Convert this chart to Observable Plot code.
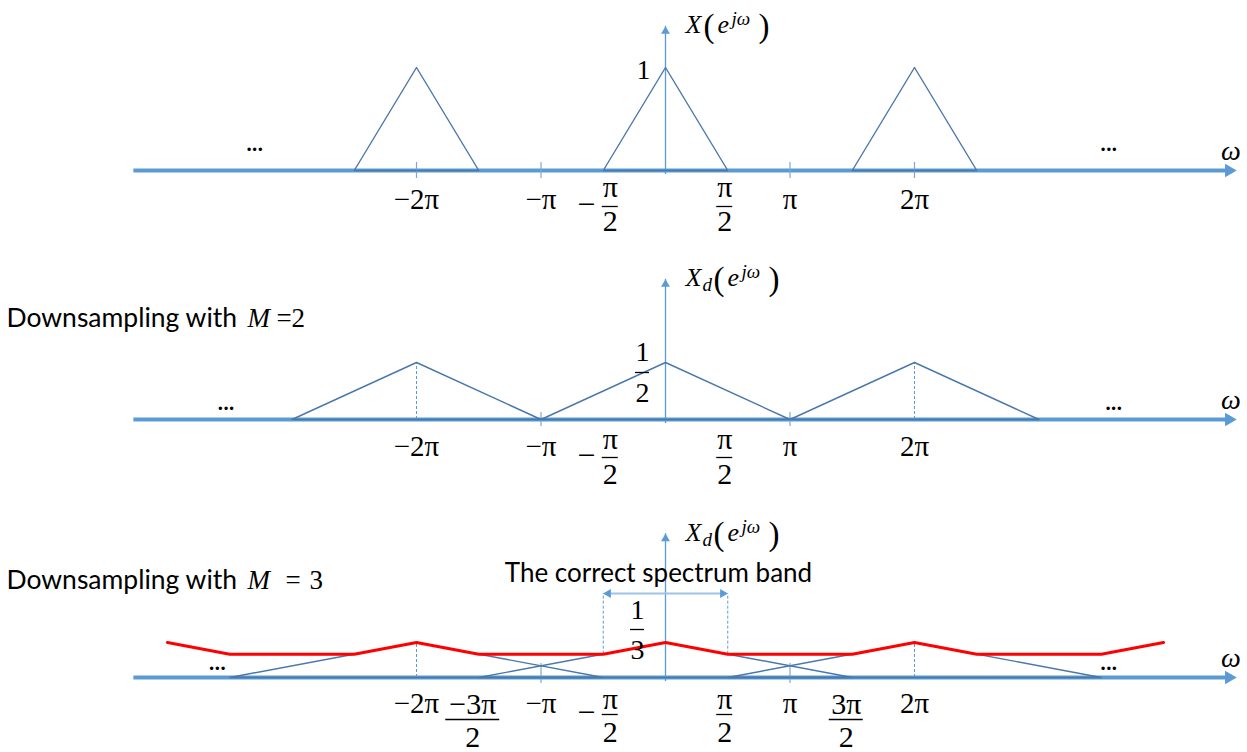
<!DOCTYPE html>
<html>
<head>
<meta charset="utf-8">
<script src="https://cdn.jsdelivr.net/npm/d3@7"></script>
<script src="https://cdn.jsdelivr.net/npm/@observablehq/plot@0.6"></script>
<style>
  html, body { margin: 0; padding: 0; background: #fff; }
  #chart { position: relative; width: 1247px; height: 752px; overflow: hidden; }
  #chart svg { position: absolute; left: 0; overflow: visible; }
</style>
</head>
<body>
<div id="chart"></div>
<script>
// All ω values are expressed in units of π.

// ω axis: start and arrow tip
const axisStart = -4.27;
const axisTip = 4.59;

// Original spectrum X(e^{jω})
const origPeaks = [-2, 0, 2];
const origHalfWidth = 0.5;
const origHeight = 1;
const origTicks = [-2, -1, 1, 2];
const origReach = 1.4;
const origEllipsis = [-3.3, 3.56];

// Downsampled by M = 2
const m2Peaks = [-2, 0, 2];
const m2HalfWidth = 1;
const m2Height = 1 / 2;
const m2Ticks = [-1, 1];
const m2Guides = [-2, 2];
const m2Reach = 1.23;
const m2Ellipsis = [-3.53, 3.6];

// Downsampled by M = 3: shifted copies and their (aliased) sum
const m3Peaks = [-2, 0, 2];
const m3HalfWidth = 1.5;
const m3Height = 1 / 3;
const m3Ticks = [-1, 1];
const m3Guides = [-2, 2];
const m3SumW = [-4, -3.5, -2.5, -2, -1.5, -0.5, 0, 0.5, 1.5, 2, 2.5, 3.5, 4];
const m3SumV = [1/3, 2/9, 2/9, 1/3, 2/9, 2/9, 1/3, 2/9, 2/9, 1/3, 2/9, 2/9, 1/3];
const m3Band = [-0.5, 0.5];
const m3BandLevel = 0.8;
const m3Reach = 1.37;
const m3Ellipsis = [-3.6, 3.56];

// Tick labels on the ω axis
const wholeLabels = [
  { w: -2, t: "−2π" }, { w: -1, t: "−π" }, { w: 1, t: "π" }, { w: 2, t: "2π" }
];
const halfLabels = [
  { w: -0.5, sign: "−", num: "π", den: "2" },
  { w: 0.5, sign: "", num: "π", den: "2" }
];
const m3HalfLabels = [
  { w: -1.5, sign: "", num: "−3π", den: "2" },
  { w: -0.5, sign: "−", num: "π", den: "2" },
  { w: 0.5, sign: "", num: "π", den: "2" },
  { w: 1.5, sign: "", num: "3π", den: "2" }
];

// ---------------------------------------------------------------
const W = 1247;
const ORIGIN = 665, PX_PER_PI = 124.5;
const xDomain = [-ORIGIN / PX_PER_PI, (W - ORIGIN) / PX_PER_PI];

const AXIS = "#5B9BD5";
const LINE = "#4A78AB";
const TICK = "#7FA7D4";
const RED = "#FF0000";
const MATH = "Liberation Serif";
const SANS = "Lato";

function triangles(peaks, hw, h) {
  return peaks.flatMap(c => [
    { w: c - hw, v: 0, k: c }, { w: c, v: h, k: c },
    { w: c + hw, v: 0, k: c }, { w: c - hw, v: 0, k: c }
  ]);
}

function axisMarks(reach, ticks, tickUp, tickDown, ellipsis, ellipsisDy) {
  return [
    Plot.ruleY([0], { x1: axisStart, x2: axisTip, stroke: AXIS, strokeWidth: 4, insetRight: 9 }),
    Plot.dot([axisTip], { x: d => d, y: 0, symbol: "triangle", rotate: 90, r: 5, fill: AXIS, dx: -8 }),
    Plot.ruleX([0], { y1: 0, y2: reach, stroke: AXIS, strokeWidth: 1.3, insetTop: 4 }),
    Plot.dot([reach], { x: 0, y: d => d, symbol: "triangle", r: 3.3, fill: AXIS, dy: 5 }),
    Plot.ruleX(ticks, { x: d => d, y1: 0, y2: 0, insetTop: -tickUp, insetBottom: -tickDown, stroke: TICK, strokeWidth: 1.2 }),
    Plot.text([axisTip], { x: d => d, y: 0, text: () => "ω", dx: -6, dy: -19, fontFamily: MATH, fontStyle: "italic", fontSize: 28, fill: "#000", lineAnchor: "middle" }),
    Plot.text(ellipsis, { x: d => d, y: 0, text: () => "...", dy: ellipsisDy, fontFamily: SANS, fontSize: 24, fontWeight: 600, fill: "#000", lineAnchor: "bottom" })
  ];
}

function wholeTickLabels(dy) {
  return Plot.text(wholeLabels, { x: "w", y: 0, text: "t", dy, fontFamily: MATH, fontSize: 29, fill: "#000", lineAnchor: "middle" });
}

function fractionLabels(items, { num, bar, den, size = 30, deep = 0 }) {
  const marks = [];
  for (const d of items) {
    const wide = d.num.length > 1;
    const drop = wide ? deep : 0;
    const dx = d.sign ? 7 : (wide ? -6 : -3);
    const half = [0, 8, 17, 27][d.num.length];
    marks.push(
      Plot.text([d], { x: "w", y: 0, text: "num", dx, dy: num + drop, fontFamily: MATH, fontSize: size, fill: "#000", lineAnchor: "middle" }),
      Plot.ruleY([d], { x1: "w", x2: "w", y: 0, dx, dy: bar + drop, insetLeft: -half, insetRight: -half, stroke: "#000", strokeWidth: 1.3 }),
      Plot.text([d], { x: "w", y: 0, text: "den", dx, dy: den + drop, fontFamily: MATH, fontSize: size, fill: "#000", lineAnchor: "middle" })
    );
    if (d.sign) {
      marks.push(Plot.text([d], { x: "w", y: 0, text: "sign", dx: -17, dy: bar - 2, fontFamily: MATH, fontSize: 32, fill: "#000", lineAnchor: "middle" }));
    }
  }
  return marks;
}

// Level label on the vertical axis: plain or as a stacked fraction
function levelLabel(value, parts, dx, offsets) {
  if (parts.length === 1) {
    return [Plot.text([value], { x: 0, y: d => d, text: () => parts[0], dx, dy: offsets[0], fontFamily: MATH, fontSize: 27, fill: "#000", lineAnchor: "middle" })];
  }
  return [
    Plot.text([value], { x: 0, y: d => d, text: () => parts[0], dx, dy: offsets[0], fontFamily: MATH, fontSize: 28, fill: "#000", lineAnchor: "middle" }),
    Plot.ruleY([value], { x1: 0, x2: 0, y: d => d, dx, dy: offsets[1], insetLeft: -7, insetRight: -7, stroke: "#000", strokeWidth: 1.3 }),
    Plot.text([value], { x: 0, y: d => d, text: () => parts[1], dx, dy: offsets[2], fontFamily: MATH, fontSize: 28, fill: "#000", lineAnchor: "middle" })
  ];
}

// Function name next to the vertical arrow: X(e^{jω}) or X_d(e^{jω})
function functionName(reach, sub) {
  const base = { x: 0, y: d => d, fill: "#000", textAnchor: "start", lineAnchor: "bottom", fontFamily: MATH };
  const shift = sub ? 10 : 0;
  const pieces = [
    { t: "X", dx: 20, dy: 7, size: 26, style: "italic" },
    { t: "(", dx: 38 + shift, dy: 11, size: 33, style: "normal" },
    { t: "e", dx: 52 + shift, dy: 7, size: 26, style: "italic" },
    { t: "jω", dx: 66 + shift, dy: -1, size: 19, style: "italic" },
    { t: ")", dx: 93 + shift, dy: 11, size: 33, style: "normal" }
  ];
  if (sub) pieces.push({ t: "d", dx: 37, dy: 12, size: 19, style: "italic" });
  return pieces.map(p => Plot.text([reach], { ...base, text: () => p.t, dx: p.dx, dy: p.dy, fontSize: p.size, fontStyle: p.style }));
}

function caption(digit, gap, dy) {
  const base = { frameAnchor: "top-left", fill: "#000", textAnchor: "start", lineAnchor: "middle", dy };
  return [
    Plot.text(["Downsampling with"], { ...base, text: d => d, dx: 6, fontFamily: SANS, fontSize: 26.5 }),
    Plot.text(["M"], { ...base, text: d => d, dx: 247, fontFamily: MATH, fontStyle: "italic", fontSize: 27 }),
    Plot.text(["="], { ...base, text: d => d, dx: 276 + gap, fontFamily: MATH, fontSize: 27 }),
    Plot.text([digit], { ...base, text: d => d, dx: 291 + 2 * gap, fontFamily: MATH, fontSize: 27 })
  ];
}

function panel({ top, height, marginTop, marginBottom, yMax, marks }) {
  const svg = Plot.plot({
    width: W, height, marginLeft: 0, marginRight: 0, marginTop, marginBottom,
    x: { domain: xDomain, axis: null },
    y: { domain: [0, yMax], axis: null },
    style: { overflow: "visible", background: "transparent", maxWidth: "none" },
    marks
  });
  svg.style.top = `${top}px`;
  document.getElementById("chart").appendChild(svg);
}

// Panel 1: X(e^{jω})
panel({
  top: 0, height: 245, marginTop: 67, marginBottom: 75, yMax: origHeight,
  marks: [
    ...axisMarks(origReach, origTicks, 8, 8, origEllipsis, -20),
    Plot.line(triangles(origPeaks, origHalfWidth, origHeight), { x: "w", y: "v", z: "k", stroke: LINE, strokeWidth: 1.4 }),
    ...functionName(origReach, false),
    ...levelLabel(origHeight, ["1"], -22, [3]),
    wholeTickLabels(29),
    ...fractionLabels(halfLabels, { num: 17, bar: 36, den: 51 })
  ]
});

// Panel 2: M = 2
panel({
  top: 245, height: 255, marginTop: 117, marginBottom: 81, yMax: m2Height,
  marks: [
    ...axisMarks(m2Reach, m2Ticks, 7, 7, m2Ellipsis, -10),
    Plot.ruleX(m2Guides, { x: d => d, y1: 0, y2: m2Height, stroke: AXIS, strokeWidth: 1, strokeDasharray: "3,2" }),
    Plot.line(triangles(m2Peaks, m2HalfWidth, m2Height), { x: "w", y: "v", z: "k", stroke: LINE, strokeWidth: 1.4 }),
    ...functionName(m2Reach, true),
    ...levelLabel(m2Height, ["1", "2"], -23, [-10, 10, 31]),
    wholeTickLabels(27),
    ...fractionLabels(halfLabels, { num: 20, bar: 38, den: 55 }),
    ...caption("2", 0, -44)
  ]
});

// Panel 3: M = 3
panel({
  top: 500, height: 252, marginTop: 142, marginBottom: 75, yMax: m3Height,
  marks: [
    ...axisMarks(m3Reach, m3Ticks, 14, 6, m3Ellipsis, -8),
    Plot.ruleX(m3Guides, { x: d => d, y1: 0, y2: m3Height, stroke: AXIS, strokeWidth: 1, strokeDasharray: "3,2" }),
    Plot.ruleX(m3Band, { x: d => d, y1: d3.min(m3SumV), y2: m3BandLevel, stroke: AXIS, strokeWidth: 1, strokeDasharray: "3,2" }),
    Plot.line(triangles(m3Peaks, m3HalfWidth, m3Height), { x: "w", y: "v", z: "k", stroke: LINE, strokeWidth: 1.4 }),
    Plot.line(m3SumW.map((w, i) => ({ w, v: m3SumV[i] })), { x: "w", y: "v", stroke: RED, strokeWidth: 3 }),
    Plot.ruleY([m3BandLevel], { x1: m3Band[0], x2: m3Band[1], stroke: "#9DC3E6", strokeWidth: 2, insetLeft: 6, insetRight: 6 }),
    Plot.dot([m3Band[0]], { x: d => d, y: m3BandLevel, symbol: "triangle", rotate: -90, r: 3.4, fill: AXIS, dx: 5 }),
    Plot.dot([m3Band[1]], { x: d => d, y: m3BandLevel, symbol: "triangle", rotate: 90, r: 3.4, fill: AXIS, dx: -5 }),
    Plot.text([m3BandLevel], { x: 0, y: d => d, text: () => "The correct spectrum band", dx: -7, dy: -20, fontFamily: SANS, fontSize: 26, fill: "#000", lineAnchor: "middle" }),
    ...functionName(m3Reach, true),
    ...levelLabel(m3Height, ["1", "3"], -28, [-32, -13, 8]),
    wholeTickLabels(26),
    ...fractionLabels(m3HalfLabels, { num: 22, bar: 37, den: 55, deep: 5 }),
    ...caption("3", 9, -62)
  ]
});
</script>
</body>
</html>
